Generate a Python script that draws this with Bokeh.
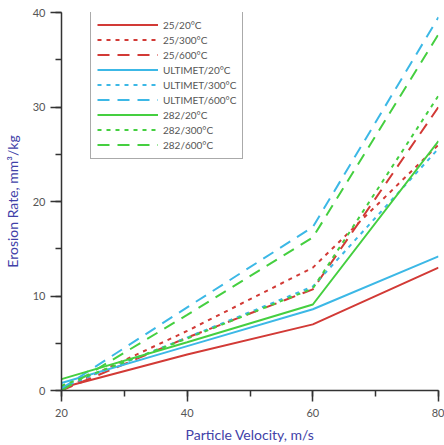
from bokeh.plotting import figure
from bokeh.models import Range1d, SingleIntervalTicker, Legend, LegendItem
from bokeh.embed import file_html
from bokeh.resources import INLINE

velocity = [20, 40, 60, 80]

er_25_20 = [0.3, 3.8, 7.0, 13.0]
er_25_300 = [0.1, 6.3, 13.0, 26.0]
er_25_600 = [0.0, 5.6, 10.7, 30.0]
er_ult_20 = [0.8, 4.7, 8.6, 14.2]
er_ult_300 = [0.3, 5.6, 11.0, 25.6]
er_ult_600 = [0.2, 8.8, 17.3, 39.5]
er_282_20 = [1.2, 5.1, 9.1, 26.4]
er_282_300 = [0.5, 5.5, 10.8, 31.2]
er_282_600 = [0.0, 8.0, 16.2, 37.7]

labels = ["25/20°C", "25/300°C", "25/600°C",
          "ULTIMET/20°C", "ULTIMET/300°C", "ULTIMET/600°C",
          "282/20°C", "282/300°C", "282/600°C"]

series = [er_25_20, er_25_300, er_25_600,
          er_ult_20, er_ult_300, er_ult_600,
          er_282_20, er_282_300, er_282_600]

RED = "#d23a36"
CYAN = "#3cb8e6"
GREEN = "#45cf40"
colors = [RED, RED, RED, CYAN, CYAN, CYAN, GREEN, GREEN, GREEN]
dashes = ["solid", "4 5", "12 8"] * 3

FONT = "Lato"
TICK_COLOR = "#555555"
LABEL_COLOR = "#4141a8"

p = figure(width=444, height=445, output_backend="svg", toolbar_location=None,
           x_range=Range1d(20, 80), y_range=Range1d(0, 40),
           min_border_left=60, min_border_right=6, min_border_top=12,
           min_border_bottom=53)
p.outline_line_color = None
p.xgrid.visible = False
p.ygrid.visible = False
p.background_fill_color = "white"

items = []
for lab, ys, c, d in zip(labels, series, colors, dashes):
    r = p.line(velocity, ys, line_color=c, line_width=2, line_dash=d)
    items.append(LegendItem(label=lab, renderers=[r]))

for ax in (p.xaxis[0], p.yaxis[0]):
    ax.axis_line_color = "#333333"
    ax.axis_line_width = 1.5
    ax.major_tick_line_color = "#333333"
    ax.minor_tick_line_color = "#333333"
    ax.major_tick_line_width = 1.5
    ax.minor_tick_line_width = 1.5
    ax.major_tick_out = 11
    ax.major_tick_in = 0
    ax.minor_tick_out = 6
    ax.minor_tick_in = 0
    ax.major_label_text_font = FONT
    ax.major_label_text_font_size = "11px"
    ax.major_label_text_color = TICK_COLOR
    ax.axis_label_text_font = FONT
    ax.axis_label_text_font_size = "14px"
    ax.axis_label_text_font_style = "normal"
    ax.axis_label_text_color = LABEL_COLOR

p.xaxis[0].ticker = SingleIntervalTicker(interval=20, num_minor_ticks=2)
p.yaxis[0].ticker = SingleIntervalTicker(interval=10, num_minor_ticks=2)
p.xaxis[0].axis_label = "Particle Velocity, m/s"
p.yaxis[0].axis_label = "Erosion Rate, mm³/kg"
p.xaxis[0].major_label_standoff = 7
p.yaxis[0].major_label_standoff = 5
p.xaxis[0].axis_label_standoff = 6
p.yaxis[0].axis_label_standoff = 9

legend = Legend(items=items, location=(29, 231))
legend.border_line_color = "#555555"
legend.border_line_width = 1.5
legend.background_fill_color = "white"
legend.background_fill_alpha = 1.0
legend.label_text_font = FONT
legend.label_text_font_size = "10px"
legend.label_text_color = TICK_COLOR
legend.glyph_width = 61
legend.glyph_height = 15
legend.label_height = 15
legend.label_standoff = 5
legend.spacing = 0
legend.padding = 6
legend.margin = 0
p.add_layout(legend, "center")

open("out.html", "w").write(file_html(p, INLINE))
